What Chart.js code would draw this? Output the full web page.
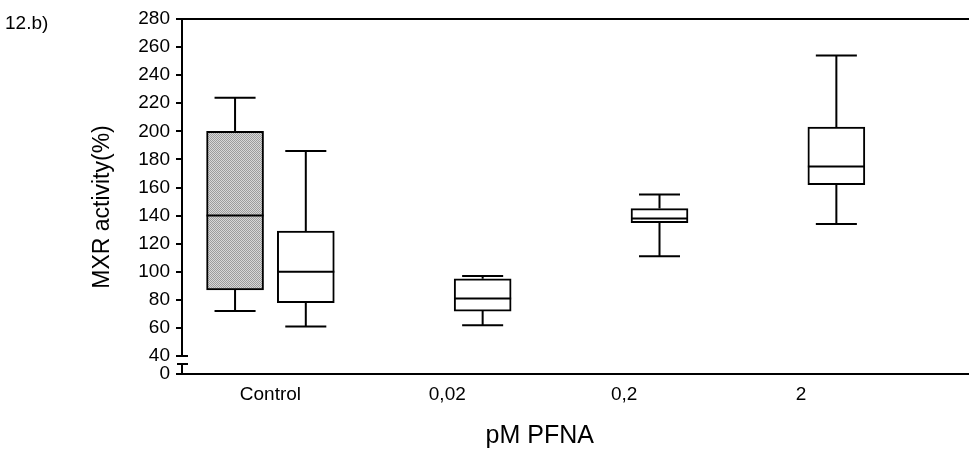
<!DOCTYPE html>
<html>
<head>
<meta charset="utf-8">
<script src="https://cdn.jsdelivr.net/npm/chart.js@4.4.1/dist/chart.umd.min.js"></script>
<style>
  html, body { margin: 0; padding: 0; background: #fff; }
  #wrap { width: 969px; height: 449px; }
</style>
</head>
<body>
<div id="wrap"><canvas id="mxrChart" width="969" height="449"></canvas></div>
<script>
// exposure groups on the x axis
const groups = ["Control", "0,02", "0,2", "2"];

// y axis labels, 0 sits below the axis break
const yTickLabels = [0, 40, 60, 80, 100, 120, 140, 160, 180, 200, 220, 240, 260, 280];

// solvent control (grey box), Control group only
const solventMin = [72];
const solventQ1 = [87];
const solventMedian = [140];
const solventQ3 = [200];
const solventMax = [224];

// PFNA exposure (white boxes)
const pfnaMin = [61, 62, 111, 134];
const pfnaQ1 = [78, 72, 135, 162];
const pfnaMedian = [100, 81, 138, 175];
const pfnaQ3 = [129, 95, 145, 203];
const pfnaMax = [186, 97, 155, 254];

const Y_FLOOR = 27.2;   // value drawn at the bottom of the broken axis
const SHIFT = 0.2;      // box offset from the group centre
const FONT = "'Liberation Sans', Arial, sans-serif";

Chart.defaults.font.family = FONT;
Chart.defaults.color = "#000";

// fine grey dither used for the solvent box
function ditherPattern() {
  const c = document.createElement("canvas");
  c.width = 2; c.height = 2;
  const g = c.getContext("2d");
  g.fillStyle = "#d8d8d8";
  g.fillRect(0, 0, 2, 2);
  g.fillStyle = "#9c9c9c";
  g.fillRect(0, 0, 1, 1);
  g.fillRect(1, 1, 1, 1);
  return g.createPattern(c, "repeat");
}

function boxes(q1, q3, slot) {
  return q1.map((v, i) => ({ x: i + 0.5 + slot, y: [v, q3[i]] }));
}

// whiskers and medians on top of the floating bars
const whiskerPlugin = {
  id: "whiskers",
  afterDatasetsDraw(chart) {
    const ctx = chart.ctx;
    const y = chart.scales.y;
    ctx.save();
    ctx.strokeStyle = "#000";
    ctx.lineWidth = 2;
    chart.data.datasets.forEach((ds, di) => {
      const meta = chart.getDatasetMeta(di);
      meta.data.forEach((bar, i) => {
        const half = bar.width / 2;
        const cap = bar.width * 0.36;
        const yMin = y.getPixelForValue(ds.stats.min[i]);
        const yMax = y.getPixelForValue(ds.stats.max[i]);
        const yQ1 = y.getPixelForValue(ds.stats.q1[i]);
        const yQ3 = y.getPixelForValue(ds.stats.q3[i]);
        const yMed = y.getPixelForValue(ds.stats.median[i]);
        ctx.beginPath();
        ctx.moveTo(bar.x, yQ3); ctx.lineTo(bar.x, yMax);
        ctx.moveTo(bar.x - cap, yMax); ctx.lineTo(bar.x + cap, yMax);
        ctx.moveTo(bar.x, yQ1); ctx.lineTo(bar.x, yMin);
        ctx.moveTo(bar.x - cap, yMin); ctx.lineTo(bar.x + cap, yMin);
        ctx.moveTo(bar.x - half, yMed); ctx.lineTo(bar.x + half, yMed);
        ctx.stroke();
      });
    });
    ctx.restore();
  }
};

// frame, broken y axis and the free text
const framePlugin = {
  id: "frame",
  afterDraw(chart) {
    const { ctx, chartArea: a, scales } = chart;
    const left = a.left;
    const y40 = scales.y.getPixelForValue(40);
    ctx.save();
    ctx.strokeStyle = "#000";
    ctx.lineWidth = 2;
    ctx.beginPath();
    ctx.moveTo(left, a.top); ctx.lineTo(a.right, a.top);
    ctx.moveTo(left, a.bottom); ctx.lineTo(a.right, a.bottom);
    ctx.moveTo(left, a.top); ctx.lineTo(left, y40);
    ctx.moveTo(left - 5, y40); ctx.lineTo(left + 6, y40);
    ctx.moveTo(left - 5, y40 + 8); ctx.lineTo(left + 6, y40 + 8);
    ctx.moveTo(left, y40 + 8); ctx.lineTo(left, a.bottom);
    ctx.stroke();

    ctx.fillStyle = "#000";
    ctx.font = "19px " + FONT;
    ctx.textAlign = "left";
    ctx.textBaseline = "middle";
    ctx.fillText("12.b)", 5, 24);

    ctx.font = "25px " + FONT;
    ctx.textAlign = "center";
    ctx.fillText("pM PFNA", scales.x.getPixelForValue(groups.length / 2) + 4, 436);

    ctx.font = "23px " + FONT;
    ctx.translate(103, 207);
    ctx.rotate(-Math.PI / 2);
    ctx.fillText("MXR activity(%)", 0, 0);
    ctx.restore();
  }
};

new Chart(document.getElementById("mxrChart"), {
  type: "bar",
  data: {
    datasets: [
      {
        label: "Solvent control",
        data: boxes(solventQ1, solventQ3, -SHIFT),
        stats: { min: solventMin, q1: solventQ1, median: solventMedian, q3: solventQ3, max: solventMax },
        backgroundColor: ditherPattern(),
        borderColor: "#000",
        borderWidth: 2,
        borderSkipped: false
      },
      {
        label: "PFNA",
        data: boxes(pfnaQ1, pfnaQ3, SHIFT),
        stats: { min: pfnaMin, q1: pfnaQ1, median: pfnaMedian, q3: pfnaQ3, max: pfnaMax },
        backgroundColor: "#fff",
        borderColor: "#000",
        borderWidth: 2,
        borderSkipped: false
      }
    ]
  },
  options: {
    responsive: false,
    animation: false,
    grouped: false,
    barThickness: 57,
    layout: { padding: { top: 19, right: 0, bottom: 0, left: 0 } },
    plugins: { legend: { display: false }, tooltip: { enabled: false } },
    scales: {
      x: {
        type: "linear",
        min: 0,
        max: 4.45,
        offset: false,
        grid: { display: false, drawTicks: false, offset: false },
        border: { display: false },
        afterBuildTicks(scale) {
          scale.ticks = groups.map((g, i) => ({ value: i + 0.5 }));
        },
        afterFit(scale) { scale.height = 75; },
        ticks: {
          font: { size: 19 },
          padding: 9,
          maxRotation: 0,
          callback: (v, i) => groups[i]
        }
      },
      y: {
        min: Y_FLOOR,
        max: 280,
        border: { display: false },
        grid: { drawOnChartArea: false, drawTicks: true, tickLength: 6, color: "#000", lineWidth: 2 },
        afterBuildTicks(scale) {
          scale.ticks = yTickLabels.map(v => ({ value: v === 0 ? Y_FLOOR : v }));
        },
        afterFit(scale) { scale.width = 182; },
        ticks: {
          font: { size: 19 },
          padding: 6,
          callback: (v, i) => String(yTickLabels[i])
        }
      }
    }
  },
  plugins: [whiskerPlugin, framePlugin]
});
</script>
</body>
</html>
